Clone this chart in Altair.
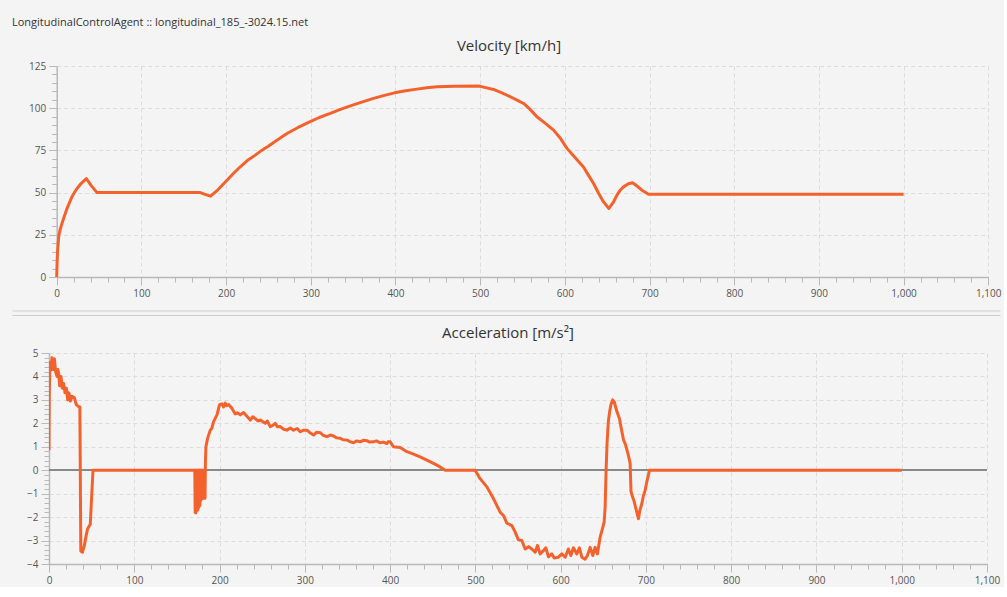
import altair as alt
import pandas as pd

# Velocity trace [km/h] over distance
vel_x = [0, 0.5, 1, 2.3, 4, 6.2, 9, 12.1, 15, 18, 21, 24, 29, 35, 41, 47.6,
         169.5, 176, 181.6, 190, 199.4, 208, 216.8, 225, 234.5, 242, 249.8, 260,
         271.9, 285, 299.4, 310, 323, 335, 349.4, 362, 374.1, 387, 399, 412,
         425.4, 437, 449, 470, 499, 515.8, 525, 535.5, 543, 551.3, 559, 567,
         577, 586.7, 595, 602.5, 612, 622, 628, 633.9, 640, 645.7, 652, 657,
         661.5, 665, 669.3, 675, 680, 686, 691, 698.8, 1000]
vel_v = [0, 9, 15, 23.7, 28, 31.6, 36, 40.5, 44, 47.5, 50, 52.4, 55.5, 58.3, 54, 50,
         50, 48.8, 47.9, 51.5, 56.4, 61, 65.3, 69, 72.2, 75, 77.5, 81,
         85, 88.6, 92, 94.5, 96.9, 99.3, 101.8, 103.9, 105.8, 107.6, 109.1, 110.3,
         111.3, 112.1, 112.7, 113, 113.1, 111.1, 109.2, 106.8, 104.9, 102.8, 99.3, 94.9,
         91, 87, 82, 76.2, 70.8, 65.2, 60.2, 55.4, 49.5, 44.5, 40.6, 44,
         48.5, 51.2, 53.4, 55.2, 55.8, 53.6, 51.4, 49, 49]

# Acceleration trace [m/s²] over distance
acc_x = [0, 0.3, 1.0, 1.5, 2.5, 3.5, 4.7, 5.5, 6.3, 7.8, 9.4, 10.4, 11.4, 12.5,
         14.1, 15.6, 17.2, 18.8, 20.4, 21.9, 23.4, 25.0, 27.0, 29.7, 32.0, 35.2,
         36.2, 37.3, 39.2, 41.5, 43.5, 45.3, 48.4, 51.6, 170.5,
         171.0, 171.4, 171.8, 172.2, 172.6, 173.0, 173.4, 173.8, 174.2, 174.6,
         175.0, 175.4, 175.8, 176.2, 176.6, 177.0, 177.4, 177.8, 178.2, 178.6,
         179.0, 179.4, 179.8, 180.2, 180.6, 181.0, 181.4, 181.8, 182.2, 182.6, 183.0,
         183.4, 184, 186, 189, 191, 193, 197, 200, 202.8, 204.7, 206.7, 208.5,
         210.6, 214.5, 218.4, 221, 224.3, 228.2, 232.1, 236, 239, 241.9, 245,
         247.7, 253.6, 256, 259.4, 262, 265.3, 268, 271.2, 275, 279, 283, 286.8,
         291, 294.6, 298, 302.5, 306, 310.2, 314, 318.1, 322, 325.9, 330, 333.7,
         337, 341.5, 345, 349.4, 353, 357.1, 361, 365, 369, 372.8, 376, 380.5,
         384, 388.4, 392, 396.2, 398, 400.1, 404, 411.8, 419.7, 427.4, 435.2,
         443.1, 450.9, 458.7, 464.6, 499.8, 505.6, 513.5, 521.2, 529.1, 532.9,
         536.9, 542.8, 546.7, 550.5, 554.5, 558.4, 562.3, 566.2, 570.1, 572.8,
         576, 579.8, 582.7, 585.7, 589.7, 592.4, 597.4, 601.4, 605.3, 609.1, 612,
         615, 619, 622, 624.9, 628.7, 631.4, 634.6, 637.7, 640.4, 643.1, 646.3,
         649.5, 651, 652.2, 653.3, 654.5, 656, 657.5, 659, 661, 663, 666, 669,
         671, 673.7, 676, 679, 681.5, 682.5, 684, 686, 688, 691.2, 693, 695.2,
         697, 699.1, 701, 703, 704.1, 1000]
acc_a = [0.85, 3.05, 4.5, 4.6, 4.3, 4.8, 4.3, 4.7, 4.75, 4.2, 4.0, 4.3, 4.1, 3.6,
         4.0, 3.5, 3.7, 3.3, 3.5, 3.0, 3.3, 2.95, 3.15, 3.1, 2.8, 2.7,
         2.7, -3.45, -3.5, -3.2, -2.8, -2.5, -2.3, 0, 0,
         0, -1.8, 0, -1.82, 0, -1.75, 0, -1.7, 0, -1.7,
         0, -1.6, 0, -1.55, 0, -1.5, 0, -1.3, 0, -1.25,
         0, -1.2, 0, -1.2, 0, -1.2, 0, -1.2, 0, -1.2, -1.2,
         0.3, 1.0, 1.36, 1.7, 1.8, 2.07, 2.36, 2.8, 2.83, 2.7, 2.86, 2.75,
         2.8, 2.64, 2.4, 2.45, 2.36, 2.46, 2.3, 2.14, 2.28, 2.2, 2.1,
         2.14, 2.0, 2.1, 1.86, 1.9, 2.0, 1.85, 1.86, 1.75, 1.71, 1.8, 1.71,
         1.78, 1.64, 1.7, 1.71, 1.6, 1.5, 1.62, 1.6, 1.48, 1.43, 1.5, 1.46,
         1.38, 1.36, 1.3, 1.29, 1.22, 1.17, 1.25, 1.21, 1.28, 1.26, 1.2, 1.21,
         1.25, 1.17, 1.2, 1.14, 1.22, 1.21, 1.0, 0.97, 0.79, 0.69, 0.57,
         0.43, 0.29, 0.14, 0, 0, -0.36, -0.71, -1.21, -1.79, -1.93,
         -2.26, -2.36, -2.64, -2.97, -3.0, -3.36, -3.26, -3.36, -3.5, -3.21,
         -3.57, -3.43, -3.31, -3.69, -3.57, -3.74, -3.71, -3.57, -3.71, -3.36, -3.64,
         -3.31, -3.57, -3.31, -3.71, -3.79, -3.64, -3.29, -3.64, -3.29, -3.57, -2.86,
         -2.43, -2.21, -1.57, 0, 1.2, 2.1, 2.5, 2.8, 3.0, 2.9, 2.5, 2.2,
         1.8, 1.3, 1.1, 0.7, 0.3, -0.9, -1.1, -1.3, -1.6, -2.07, -1.7, -1.43,
         -1.1, -0.86, -0.5, -0.2, 0, 0]

x_ticks = list(range(0, 1101, 100))
x_minor = list(range(0, 1101, 20))
v_ticks = [0, 25, 50, 75, 100, 125]
v_minor = list(range(0, 126, 5))
a_ticks = [-4, -3, -2, -1, 0, 1, 2, 3, 4, 5]
a_minor = [round(-4 + 0.2 * i, 1) for i in range(46)]

FONT = "Open Sans"
LINE = "#f3622d"
GRID = "#dcdcdc"
AXIS = "#b9b9b9"
LABEL = "#555555"
FRAME = "#cdcdcd"
BG = "#f4f4f4"


def major_axis(values, fmt, orient, offset=0):
    return alt.Axis(values=values, format=fmt, orient=orient, title=None,
                    offset=offset,
                    grid=True, gridColor=GRID, gridDash=[4, 3], gridWidth=1,
                    domainColor=AXIS, domainWidth=1.5, tickColor=AXIS,
                    tickSize=8, tickWidth=1, labelPadding=3, labelFont=FONT,
                    labelFontSize=10, labelColor=LABEL, labelFlush=False,
                    labelOverlap=False)


def minor_axis(values, orient, offset=0):
    return alt.Axis(values=values, orient=orient, title=None, grid=False,
                    offset=offset, domain=False, labels=False, tickColor=AXIS,
                    tickSize=5, tickWidth=1)


def divider(y):
    # splitter line between the two panels (pixel offset below the plot top)
    return alt.Chart(pd.DataFrame({"k": [0]})).mark_rule(
        color=FRAME, strokeWidth=1, clip=False
    ).encode(x=alt.value(-36.5), x2=alt.value(951.5), y=alt.value(y))


def panel(df, field, yticks, yminor, ydomain, width, xrange, yoffset, title,
          zero_line, dividers):
    xs = alt.Scale(domain=[0, 1100], range=xrange, nice=False, zero=False)
    ys = alt.Scale(domain=ydomain, nice=False, zero=False)
    base = alt.Chart(df)
    minor = base.mark_line(strokeOpacity=0).encode(
        x=alt.X("x:Q", scale=xs, axis=minor_axis(x_minor, "bottom")),
        y=alt.Y(f"{field}:Q", scale=ys,
                axis=minor_axis(yminor, "left", yoffset)),
    )
    line = base.mark_line(color=LINE, strokeWidth=3, clip=True,
                          strokeJoin="round").encode(
        x=alt.X("x:Q", scale=xs, axis=major_axis(x_ticks, ",.0f", "bottom")),
        y=alt.Y(f"{field}:Q", scale=ys,
                axis=major_axis(yticks, "d", "left", yoffset)),
    )
    layers = [minor] + [divider(y) for y in dividers]
    if zero_line:
        layers.append(base.mark_rule(color="#8a8a8a", strokeWidth=1).encode(
            y=alt.Y(datum=0, scale=ys, axis=None)))
    layers.append(line)
    return alt.layer(*layers).resolve_axis(
        x="independent", y="independent"
    ).properties(
        width=width, height=211,
        title=alt.Title(title, font=FONT, fontSize=15, fontWeight="normal",
                        color="#333333", anchor="middle", offset=7, dx=-10),
    )


vel_df = pd.DataFrame({"x": vel_x, "v": vel_v})
acc_df = pd.DataFrame({"x": acc_x, "a": acc_a})

top = panel(vel_df, "v", v_ticks, v_minor, [0, 125], 940, [7.7, 939.3], -7.7,
            "Velocity [km/h]", False, [245, 249.5])
bottom = panel(acc_df, "a", a_ticks, a_minor, [-4, 5], 938, [0, 938], 0,
               "Acceleration [m/s²]", True, [])

chart = alt.concat(top, bottom, columns=1, spacing=10).properties(
    padding={"left": 12, "top": 17, "right": 2, "bottom": 2},
    title=alt.Title("LongitudinalControlAgent :: longitudinal_185_-3024.15.net",
                    font=FONT, fontSize=11, fontWeight="normal", color="#333333",
                    anchor="start", offset=11),
).configure(background=BG).configure_view(stroke=None)

chart.save("out.html", embed_options={"renderer": "svg", "actions": False})
